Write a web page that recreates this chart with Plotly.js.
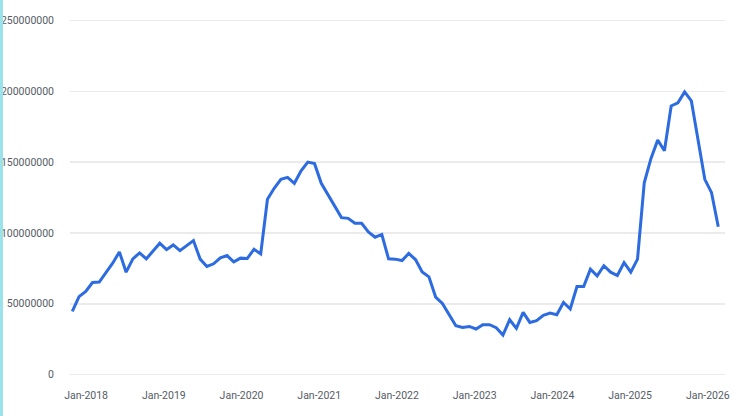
<!DOCTYPE html>
<html>
<head>
<meta charset="utf-8">
<script src="https://cdn.plot.ly/plotly-3.0.1.min.js"></script>
<style>
  html, body { margin: 0; padding: 0; background: #ffffff; }
  #chart { width: 740px; height: 416px; }
  #strip { position: absolute; left: 0; top: 0; width: 3px; height: 416px; background: #9be3ea; z-index: 5; }
</style>
</head>
<body>
<div id="strip"></div>
<div id="chart"></div>
<script>
// Monthly values, in units
const values = [
  44.6e6, 55.0e6, 58.7e6, 65.0e6, 65.3e6, 71.6e6, 78.6e6, 86.6e6, 72.3e6, 81.7e6,
  85.9e6, 81.7e6, 87.5e6, 92.7e6, 88.2e6, 91.5e6, 87.5e6, 91.0e6, 94.6e6, 81.5e6,
  76.3e6, 78.2e6, 82.4e6, 84.0e6, 79.6e6, 82.2e6, 81.9e6, 88.5e6, 85.2e6, 123.7e6,
  131.5e6, 137.8e6, 139.2e6, 135.0e6, 143.9e6, 150.0e6, 148.9e6, 135.0e6, 127.0e6, 119.3e6,
  110.8e6, 110.3e6, 106.8e6, 106.8e6, 100.7e6, 97.0e6, 98.9e6, 81.7e6, 81.5e6, 80.5e6,
  85.5e6, 81.2e6, 72.5e6, 69.0e6, 54.7e6, 50.2e6, 42.3e6, 34.5e6, 33.3e6, 34.0e6,
  32.2e6, 35.2e6, 35.2e6, 33.1e6, 27.9e6, 38.7e6, 32.6e6, 43.9e6, 36.8e6, 38.0e6,
  41.8e6, 43.4e6, 42.3e6, 50.9e6, 46.3e6, 62.2e6, 62.2e6, 74.4e6, 69.7e6, 76.8e6,
  72.3e6, 69.9e6, 79.1e6, 72.3e6, 81.5e6, 135.4e6, 152.6e6, 165.5e6, 158.0e6, 189.6e6,
  191.8e6, 199.5e6, 193.2e6, 165.5e6, 137.8e6, 128.4e6, 104.4e6
];
const tickLabels = ["Jan-2018","Jan-2019","Jan-2020","Jan-2021","Jan-2022","Jan-2023","Jan-2024","Jan-2025","Jan-2026"];
const yTicks = [0, 50000000, 100000000, 150000000, 200000000, 250000000];

const xIdx = values.map((_, i) => i);
const tickPos = tickLabels.map((_, k) => 2.05 + k * 11.55);

const trace = {
  x: xIdx,
  y: values,
  type: 'scatter',
  mode: 'lines',
  line: { color: '#2c6be0', width: 3, shape: 'linear' },
  hoverinfo: 'skip'
};

const fontFam = 'Roboto, "Open Sans", sans-serif';
const layout = {
  width: 740,
  height: 416,
  margin: { l: 70, r: 15, t: 18.58, b: 39.58 },
  paper_bgcolor: '#ffffff',
  plot_bgcolor: '#ffffff',
  showlegend: false,
  xaxis: {
    range: [-0.342, 97.0],
    tickmode: 'array',
    tickvals: tickPos,
    ticktext: tickLabels,
    showgrid: false,
    zeroline: false,
    showline: false,
    ticks: '',
    ticklabelstandoff: 11,
    tickfont: { family: fontFam, size: 10.5, color: '#555b66' }
  },
  yaxis: {
    range: [-1000000, 251000000],
    tickmode: 'array',
    tickvals: yTicks,
    ticktext: yTicks.map(v => String(v)),
    showgrid: true,
    gridcolor: '#ebebeb',
    gridwidth: 1.5,
    zeroline: false,
    showline: false,
    ticks: '',
    ticklabelstandoff: 15,
    tickfont: { family: fontFam, size: 10.5, color: '#555b66' }
  }
};

Plotly.newPlot('chart', [trace], layout, { displayModeBar: false, staticPlot: true });
</script>
</body>
</html>
